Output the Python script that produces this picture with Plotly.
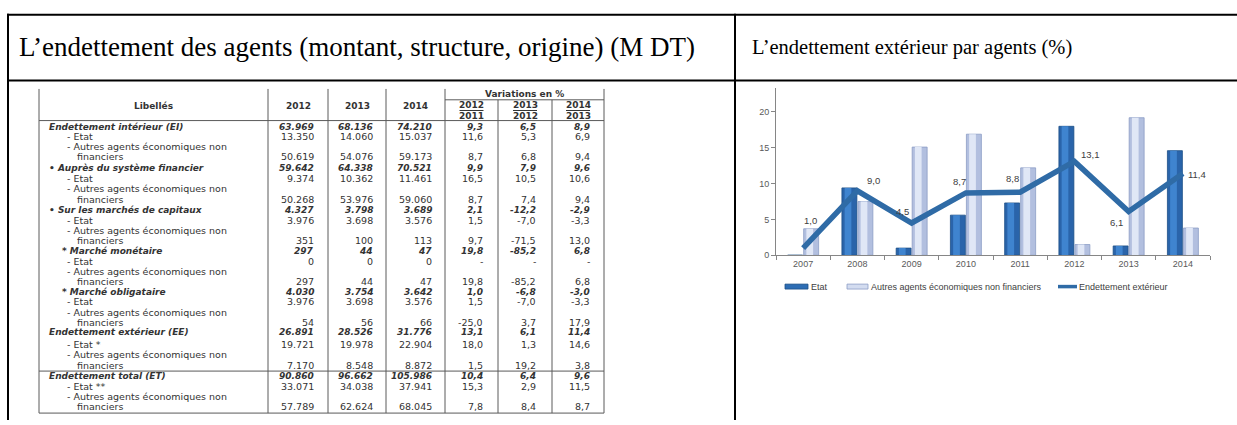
import plotly.graph_objects as go

W, H = 1237, 425

# ---------------- chart data: external debt growth by agent (%) ----------------
years = ["2007", "2008", "2009", "2010", "2011", "2012", "2013", "2014"]
etat = [0.0, 9.4, 1.0, 5.6, 7.3, 18.0, 1.3, 14.6]
autres_agents = [3.7, 7.5, 15.1, 16.9, 12.2, 1.5, 19.2, 3.8]
endettement_ext = [1.0, 9.0, 4.5, 8.7, 8.8, 13.1, 6.1, 11.4]
series_names = ["Etat", "Autres agents économiques non financiers", "Endettement extérieur"]

# ---------------- table data: debt of agents (M DT) ----------------
row_labels = [
    "Endettement intérieur (EI)",
    "- Etat",
    "- Autres agents économiques non\nfinanciers",
    "• Auprès du système financier",
    "- Etat",
    "- Autres agents économiques non\nfinanciers",
    "• Sur les marchés de capitaux",
    "- Etat",
    "- Autres agents économiques non\nfinanciers",
    "* Marché monétaire",
    "- Etat",
    "- Autres agents économiques non\nfinanciers",
    "* Marché obligataire",
    "- Etat",
    "- Autres agents économiques non\nfinanciers",
    "Endettement extérieur (EE)",
    "- Etat *",
    "- Autres agents économiques non\nfinanciers",
    "Endettement total (ET)",
    "- Etat **",
    "- Autres agents économiques non\nfinanciers",
]
amount_2012 = [63969, 13350, 50619, 59642, 9374, 50268, 4327, 3976, 351, 297, 0, 297,
               4030, 3976, 54, 26891, 19721, 7170, 90860, 33071, 57789]
amount_2013 = [68136, 14060, 54076, 64338, 10362, 53976, 3798, 3698, 100, 44, 0, 44,
               3754, 3698, 56, 28526, 19978, 8548, 96662, 34038, 62624]
amount_2014 = [74210, 15037, 59173, 70521, 11461, 59060, 3689, 3576, 113, 47, 0, 47,
               3642, 3576, 66, 31776, 22904, 8872, 105986, 37941, 68045]
var_2012_2011 = [9.3, 11.6, 8.7, 9.9, 16.5, 8.7, 2.1, 1.5, 9.7, 19.8, None, 19.8,
                 1.0, 1.5, -25.0, 13.1, 18.0, 1.5, 10.4, 15.3, 7.8]
var_2013_2012 = [6.5, 5.3, 6.8, 7.9, 10.5, 7.4, -12.2, -7.0, -71.5, -85.2, None, -85.2,
                 -6.8, -7.0, 3.7, 6.1, 1.3, 19.2, 6.4, 2.9, 8.4]
var_2014_2013 = [8.9, 6.9, 9.4, 9.6, 10.6, 9.4, -2.9, -3.3, 13.0, 6.8, None, 6.8,
                 -3.0, -3.3, 17.9, 11.4, 14.6, 3.8, 9.6, 11.5, 8.7]
year_headers = ["2012", "2013", "2014"]
variation_headers = [("2012", "2011"), ("2013", "2012"), ("2014", "2013")]


def fmt_amount(v):
    return f"{v:,}".replace(",", ".")


def fmt_var(v):
    return "-" if v is None else f"{v:.1f}".replace(".", ",")


def px(x):
    return x / W


def py(y):
    return 1 - y / H


fig = go.Figure()

# ---------------- right panel: shaded bars + line ----------------
# each bar series is a darker body with a lighter inner stripe for a rounded look
BAR_W = 0.276
bar_styles = [
    (etat, series_names[0], -0.285, "#2a64aa", "#1c4f87", "#3f84cf"),
    (autres_agents, series_names[1], 0.010, "#b2bfdf", "#8b9dc5", "#e0e7f6"),
]
for values, name, off, body, edge, shine in bar_styles:
    fig.add_trace(go.Bar(
        x=years, y=values, name=name, offset=off, width=BAR_W,
        marker=dict(color=body, line=dict(color=edge, width=0.8)),
    ))
    fig.add_trace(go.Bar(
        x=years, y=values, name=name, offset=off + 0.05, width=BAR_W * 0.45,
        marker=dict(color=shine, line=dict(width=0)), hoverinfo="skip",
    ))
fig.add_trace(go.Scatter(
    x=years, y=endettement_ext, name=series_names[2], mode="lines",
    line=dict(color="#2f6ba6", width=5.5),
))

annotations = []
shapes = []

# value labels on the line (x given as category index)
label_shift = [(7, 28), (16, 10), (-9, 12), (-6, 11), (-8, 14), (16, 7), (-12, -11), (14, -1)]
for i, (v, (dx, dy)) in enumerate(zip(endettement_ext, label_shift)):
    annotations.append(dict(
        x=i, y=v, xref="x", yref="y", text=fmt_var(v), showarrow=False,
        xshift=dx, yshift=dy, font=dict(family="Liberation Sans", size=9.5, color="#404040"),
    ))

# legend keys drawn below the axis
LEG_Y = 290
shapes += [
    dict(type="rect", xref="paper", yref="paper", x0=px(785), x1=px(808),
         y0=py(292.5), y1=py(287.5), fillcolor="#2d6db4", line=dict(color="#1c4f87", width=0.8)),
    dict(type="rect", xref="paper", yref="paper", x0=px(847), x1=px(868),
         y0=py(292.5), y1=py(287.5), fillcolor="#d3dcf0", line=dict(color="#8b9dc5", width=0.8)),
    dict(type="line", xref="paper", yref="paper", x0=px(1058), x1=px(1077),
         y0=py(LEG_Y), y1=py(LEG_Y), line=dict(color="#2f6ba6", width=3.5)),
]
for name, x0 in zip(series_names, [809, 869, 1077]):
    annotations.append(dict(
        x=px(x0), y=py(LEG_Y), xref="paper", yref="paper", text=name, showarrow=False,
        xanchor="left", yanchor="middle", font=dict(family="Liberation Sans", size=9, color="#404040"),
    ))

# ---------------- outer frame & headers ----------------
BLACK = "#000000"
frame = [
    (7, 15, 1237, 15), (7, 81.5, 1237, 81.5),
    (8, 14, 8, 425), (735, 14, 735, 425),
]
for x0, y0, x1, y1 in frame:
    shapes.append(dict(type="line", xref="paper", yref="paper",
                       x0=px(x0), y0=py(y0), x1=px(x1), y1=py(y1),
                       line=dict(color=BLACK, width=2)))

annotations.append(dict(x=px(17), y=py(48), xref="paper", yref="paper", showarrow=False,
                        xanchor="left", yanchor="middle",
                        font=dict(family="Liberation Serif", size=27, color="#000000"),
                        text="L’endettement des agents (montant, structure, origine) (M DT)"))
annotations.append(dict(x=px(750), y=py(48), xref="paper", yref="paper", showarrow=False,
                        xanchor="left", yanchor="middle",
                        font=dict(family="Liberation Serif", size=20.5, color="#000000"),
                        text="L’endettement extérieur par agents (%)"))

# ---------------- left panel: table ----------------
GRID = "#5a5a5a"
TXT = "#333333"
col_edges = [39, 268, 328, 386, 445, 498, 552, 604]
T_TOP, T_SUB, T_HEAD, T_SEP, T_BOT = 90, 101, 122, 375.5, 418
for x in col_edges:
    top = T_SUB if x in (498, 552) else T_TOP
    shapes.append(dict(type="line", xref="paper", yref="paper", x0=px(x), x1=px(x),
                       y0=py(top), y1=py(T_BOT), line=dict(color=GRID, width=1)))
for y, xa, xb in [(T_SUB, 445, 604), (T_HEAD, 39, 604), (T_SEP, 39, 604), (T_BOT, 39, 604)]:
    shapes.append(dict(type="line", xref="paper", yref="paper", x0=px(xa), x1=px(xb),
                       y0=py(y), y1=py(y), line=dict(color=GRID, width=1)))

reg = dict(family="DejaVu Sans", size=9.5, color=TXT)
bold = dict(family="DejaVu Sans", size=9, color=TXT)


def put(x, y, text, font, anchor="left"):
    annotations.append(dict(x=px(x), y=py(y), xref="paper", yref="paper", text=text,
                            showarrow=False, xanchor=anchor, yanchor="middle", font=font))


# header cells
put((col_edges[0] + col_edges[1]) / 2, 107, "<b>Libellés</b>", bold, "center")
for k, yh in enumerate(year_headers):
    put((col_edges[1 + k] + col_edges[2 + k]) / 2, 107, f"<b>{yh}</b>", bold, "center")
put((col_edges[4] + col_edges[7]) / 2, 95, "<b>Variations en %</b>", bold, "center")
for k, (top, bot) in enumerate(variation_headers):
    cx = (col_edges[4 + k] + col_edges[5 + k]) / 2
    put(cx, 106.3, f"<b>{top}</b>", bold, "center")
    put(cx, 117.3, f"<b>{bot}</b>", bold, "center")
    shapes.append(dict(type="line", xref="paper", yref="paper", x0=px(cx - 12), x1=px(cx + 12),
                       y0=py(111.8), y1=py(111.8), line=dict(color=TXT, width=1)))

# body rows: one y per printed line
line_y = [128.3, 138.3, 148.5, 158.8, 170, 180.7, 191, 201.7, 212.3, 222.7, 233, 243.3,
          254, 265, 275, 285, 295.5, 305.5, 316, 326.5, 336, 349, 359, 369.5,
          380.5, 391, 401, 411]
value_right = [316, 375, 434, 485, 538, 592]

li = 0
for r, label in enumerate(row_labels):
    parts = label.split("\n")
    heading = not label.startswith("- ")
    if label.startswith("- "):
        x0 = 65
    elif label.startswith("* "):
        x0 = 60
    else:
        x0 = 46.7
    for j, part in enumerate(parts):
        if heading:
            put(x0, line_y[li + j], f"<b><i>{part}</i></b>", bold)
        else:
            put(x0 if j == 0 else 75, line_y[li + j], part, reg)
    yv = line_y[li + len(parts) - 1]
    cells = [fmt_amount(amount_2012[r]), fmt_amount(amount_2013[r]), fmt_amount(amount_2014[r]),
             fmt_var(var_2012_2011[r]), fmt_var(var_2013_2012[r]), fmt_var(var_2014_2013[r])]
    for xr, c in zip(value_right, cells):
        if heading:
            put(xr, yv, f"<b><i>{c}</i></b>", bold, "right")
        else:
            put(xr, yv, c, reg, "right")
    li += len(parts)

# ---------------- layout ----------------
AX = "#868686"
y_px0, y_px1 = 258.3, 89.4
fig.update_layout(
    width=W, height=H, margin=dict(l=0, r=0, t=0, b=0),
    paper_bgcolor="white", plot_bgcolor="rgba(0,0,0,0)",
    showlegend=False, barmode="overlay",
    xaxis=dict(domain=[px(776), px(1210)], type="category", range=[-0.5, 7.5],
               showline=True, linecolor=AX, linewidth=1, ticks="outside", tickson="boundaries",
               ticklen=4, tickcolor=AX, showgrid=False, fixedrange=True,
               tickfont=dict(family="Liberation Sans", size=9, color="#595959")),
    yaxis=dict(domain=[py(y_px0), py(y_px1)], range=[0, 23.3], tickvals=[0, 5, 10, 15, 20],
               showline=True, linecolor=AX, linewidth=1, ticks="outside", ticklen=4,
               tickcolor=AX, showgrid=False, zeroline=False, fixedrange=True,
               tickfont=dict(family="Liberation Sans", size=9, color="#595959")),
    annotations=annotations, shapes=shapes,
)

fig.write_html("out.html")
